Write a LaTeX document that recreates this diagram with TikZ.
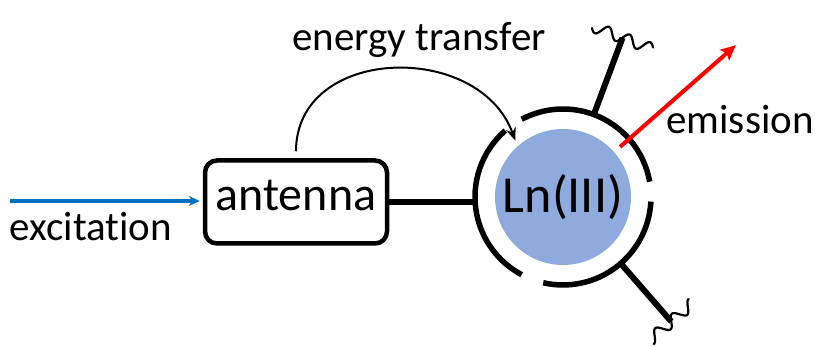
\documentclass[tikz,border=0pt]{standalone}
\usepackage{fontspec}
\setmainfont{Carlito}[Ligatures=NoCommon]
\usepackage{xcolor}
\usepackage{tikz}
\usetikzlibrary{arrows.meta}
\definecolor{lnblue}{HTML}{8FAADC}
\definecolor{excblue}{HTML}{0070C0}

\begin{document}
\begin{tikzpicture}[x=1pt, y=1pt,
    antennabox/.style={draw, line width=4.5pt, rounded corners=12pt, minimum width=182pt, minimum height=83pt,
        inner sep=0pt, font=\fontsize{48}{48}\selectfont, text height=25pt, text depth=8pt},
    ion/.style={circle, fill=lnblue, minimum size=136pt, inner sep=0pt, font=\fontsize{52}{52}\selectfont},
    txt/.style={font=\fontsize{41}{41}\selectfont, inner sep=0pt},
    bond/.style={line width=6pt},
    ring/.style={line width=5.5pt},
    wave/.style={line width=2.2pt, line cap=round},
    excarrow/.style={excblue, line width=3.2pt, -{Stealth[length=11pt,width=10pt]}, shorten >=3pt},
    transfer/.style={line width=2pt, -{Stealth[length=13pt,width=10pt]}, shorten <=7pt, shorten >=6pt},
    emarrow/.style={red, line width=4pt, -{Stealth[length=15pt,width=14pt,inset=3pt]}}]
    \useasboundingbox (0,0) rectangle (817,347);

    \node[antennabox] (antenna) at (296,145) {antenna};
    \node[ion] (ln) at (563,150) {Ln(III)};

    % --- excitation ---
    \coordinate (exstart) at (10,146);
    \draw[excarrow] (exstart) -- (exstart -| antenna.west);
    \node[txt] (exclabel) at (91,120) {excitation};

    % --- ring round the ion ---
    \draw[ring] ([shift={(10:88)}]ln.center) arc[start angle=10, end angle=118, radius=88];
    \draw[ring] ([shift={(-103:88)}]ln.center) arc[start angle=-103, end angle=-3, radius=88];
    \draw[ring] ([shift={(131:88)}]ln.center) arc[start angle=131, end angle=242, radius=88];
    \coordinate (ringw) at ([shift={(180:88)}]ln.center);
    \draw[bond] (antenna.east) -- (antenna.east -| ringw);

    % --- ligands ---
    \coordinate (topend) at ([shift={(69.5:170)}]ln.center);
    \coordinate (botend) at ([shift={(-49:165)}]ln.center);
    \draw[bond] ([shift={(69.5:88)}]ln.center) -- (topend);
    \draw[bond] ([shift={(-49:88)}]ln.center) -- (botend);
    \draw[wave, shift={(topend)}, rotate=-20.5] plot[domain=-32:32, samples=80, smooth] (\x, {5.5*sin(\x*360/22)});
    \draw[wave, shift={(botend)}, rotate=41] plot[domain=-28:28, samples=80, smooth] (\x, {5.5*sin(\x*360/22)});

    % --- energy transfer ---
    \draw[transfer] (antenna.north) to[out=90, in=110, looseness=1.3] (ln.132);
    \node[txt] (etlabel) at (419,307) {energy transfer};

    % --- emission ---
    \coordinate (emstart) at ([shift={(41.3:76)}]ln.center);
    \coordinate (emend) at ([shift={(41.3:230)}]ln.center);
    \draw[emarrow] (emstart) -- (emend);
    \node[txt] (emlabel) at (740,227) {emission};
\end{tikzpicture}
\end{document}
